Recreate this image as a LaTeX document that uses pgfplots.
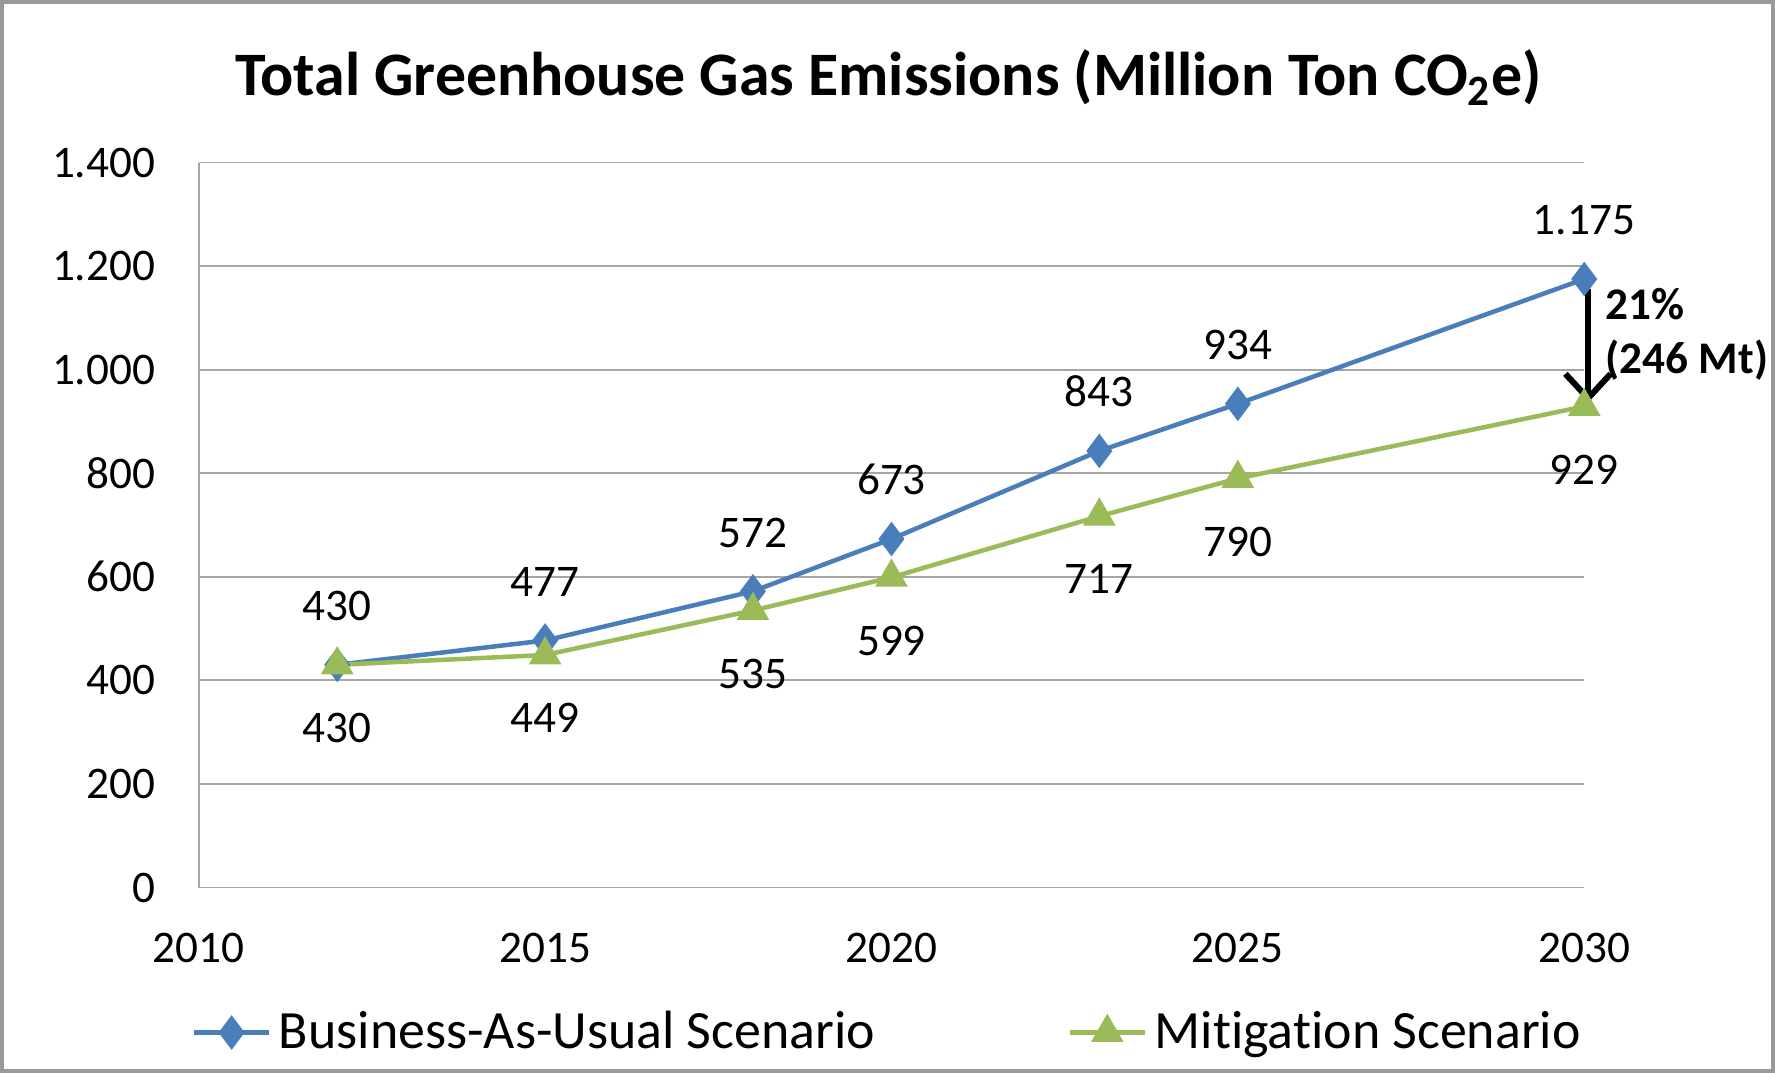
\documentclass[border=0pt]{standalone}
\usepackage{pgfplots}
\pgfplotsset{compat=1.18}
\usepackage{fontspec}
\setmainfont{Carlito}[RawFeature={-liga;-clig;-calt;-dlig}]
\usetikzlibrary{arrows.meta}

\definecolor{bau}{HTML}{4A7EBB}
\definecolor{mit}{HTML}{9BBB59}
\definecolor{gridgray}{HTML}{A6A6A6}

\begin{document}
\begin{tikzpicture}
\begin{axis}[
	scale only axis,
	width=367.5pt, height=192.3pt,
	xmin=2010, xmax=2030, ymin=0, ymax=1400,
	xtick={2010,2015,2020,2025,2030},
	xticklabels={2010,2015,2020,2025,2030},
	ytick={0,200,400,600,800,1000,1200,1400},
	yticklabels={0,200,400,600,800,1.000,1.200,1.400},
	axis x line*=bottom, axis y line*=left,
	axis line style={gridgray, line width=0.5pt},
	major tick length=0pt,
	ymajorgrids, grid style={gridgray, line width=0.5pt},
	tick label style={font=\fontsize{12}{14}\selectfont},
	yticklabel style={xshift=-8pt},
	xticklabel style={yshift=-8.5pt},
	/pgf/number format/.cd, 1000 sep={.}, assume math mode=true, /pgfplots/.cd,
	clip=false,
	legend columns=2,
	legend style={at={(0.499,-0.2)}, anchor=center, draw=none,
		font=\fontsize{14.3}{17}\selectfont,
		/tikz/every even column/.append style={column sep=49pt}},
	legend image code/.code={\draw[mark repeat=2,mark phase=2]
		plot coordinates {(0cm,0cm) (0.35cm,0cm) (0.7cm,0cm)};},
]
\addplot[color=bau, line width=1.2pt, mark=diamond*, mark size=3.6pt,
	mark options={fill=bau, solid},
	nodes near coords,
	every node near coord/.append style={anchor=south, inner sep=0pt, yshift=11pt,
		text=black, font=\fontsize{12}{14}\selectfont}]
	coordinates {(2012,430) (2015,477) (2018,572) (2020,673) (2023,843) (2025,934) (2030,1175)};
\addlegendentry{Business-As-Usual Scenario}
\addplot[color=mit, line width=1.2pt, mark=triangle*, mark size=3.8pt,
	mark options={fill=mit, solid},
	nodes near coords,
	every node near coord/.append style={anchor=north, inner sep=0pt, yshift=-12.3pt,
		text=black, font=\fontsize{12}{14}\selectfont}]
	coordinates {(2012,430) (2015,449) (2018,535) (2020,599) (2023,717) (2025,790) (2030,929)};
\addlegendentry{Mitigation Scenario}

\draw[black, line width=1.6pt, -{Straight Barb[length=6.5pt,width=12pt]}]
	([xshift=1pt]axis cs:2030,1155) -- ([xshift=1pt]axis cs:2030,936);
\node[anchor=west, inner sep=0pt, font=\bfseries\fontsize{12}{14}\selectfont]
	at ([xshift=5.5pt]axis cs:2030,1127) {21\%};
\node[anchor=west, inner sep=0pt, font=\bfseries\fontsize{12}{14}\selectfont]
	at ([xshift=5.5pt]axis cs:2030,1018) {(246 Mt)};
\node[font=\bfseries\fontsize{16.4}{19}\selectfont]
	at ([yshift=22.5pt]rel axis cs:0.498,1) {Total Greenhouse Gas Emissions (Million Ton CO\textsubscript{2}e)};
\end{axis}
\draw[gray!80, line width=1pt]
	([shift={(-52.2pt,-48.6pt)}]current axis.south west) rectangle
	([shift={(50.1pt,42.6pt)}]current axis.north east);
\end{tikzpicture}
\end{document}
